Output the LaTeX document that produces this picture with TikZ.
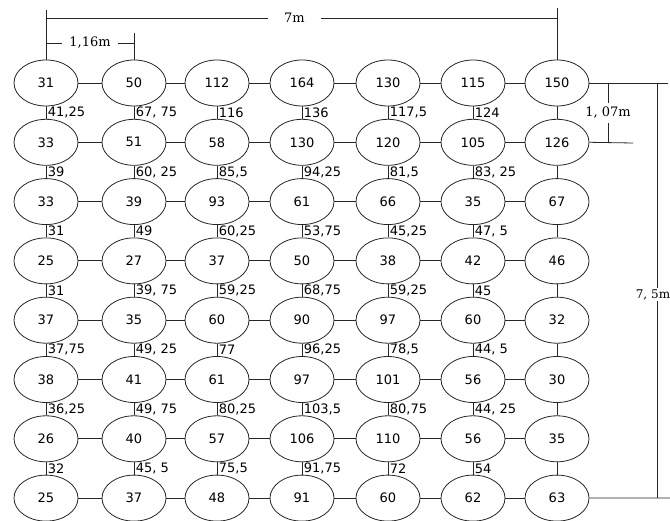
\documentclass[tikz,border=0pt]{standalone}
\usepackage{fontspec}
\setmainfont{DejaVu Sans}
\newfontfamily\dimfont{DejaVu Serif}
\usetikzlibrary{shapes.geometric}

\tikzset{
  cell/.style={shape=ellipse, draw=black!85, line width=0.8pt, minimum width=64pt,
    minimum height=46pt, inner sep=0pt, font=\fontsize{13}{15}\selectfont},
  link/.style={draw=black!85, line width=0.8pt},
  flow/.style={right, inner sep=1.5pt, font=\fontsize{13}{15}\selectfont},
  dimtext/.style={fill=white, inner ysep=1pt, font=\dimfont\fontsize{13}{15}\selectfont}
}

\begin{document}
\begin{tikzpicture}[x=1pt,y=-1pt]
    \useasboundingbox (0,0) rectangle (670,521);
    \def\colx{{46,134,217,302,388,473,557}}
    % wells
    \foreach \vals [count=\r] in {{31,50,112,164,130,115,150},{33,51,58,130,120,105,126},
        {33,39,93,61,66,35,67},{25,27,37,50,38,42,46},{37,35,60,90,97,60,32},
        {38,41,61,97,101,56,30},{26,40,57,106,110,56,35},{25,37,48,91,60,62,63}} {
      \foreach \v [count=\c] in \vals {
        \pgfmathsetmacro\px{\colx[\c-1]}
        \pgfmathsetmacro\py{83+(\r-1)*59.3}
        \node[cell] (r\r c\c) at (\px,\py) {\v};
      }
    }
    % rows
    \foreach \r in {1,...,8} {
      \foreach \c in {1,...,6} {
        \pgfmathtruncatemacro\nxt{\c+1}
        \path[link] (r\r c\c) -- (r\r c\nxt);
      }
    }
    % columns with values
    \foreach \labs [count=\r, evaluate=\r as \s using int(\r+1)] in {
        {{41,25},{67, 75},116,136,{117,5},124},
        {39,{60, 25},{85,5},{94,25},{81,5},{83, 25}},
        {31,49,{60,25},{53,75},{45,25},{47, 5}},
        {31,{39, 75},{59,25},{68,75},{59,25},45},
        {{37,75},{49, 25},77,{96,25},{78,5},{44, 5}},
        {{36,25},{49, 75},{80,25},{103,5},{80,75},{44, 25}},
        {32,{45, 5},{75,5},{91,75},72,54}} {
      \foreach \l [count=\c] in \labs
        \path[link] (r\r c\c) -- node[flow] {\l} (r\s c\c);
      \path[link] (r\r c7) -- (r\s c7);
    }
    % dimensions
    \coordinate (w top) at (46,10);
    \coordinate (e top) at (557,8);
    \coordinate (w line) at (46,18);
    \coordinate (e line) at (557,18);
    \coordinate (s top) at (134,33);
    \coordinate (s line) at (134,43);
    \coordinate (w short) at (46,43);
    \path[link] (r1c1.north) -- (w top);
    \path[link] (r1c7.north) -- (e top);
    \path[link] (w line) -- node[dimtext, pos=0.486, inner xsep=16pt] {7m} (e line);
    \path[link] (r1c2.north) -- (s top);
    \path[link] (w short) -- node[dimtext, inner xsep=7pt] {1,16m} (s line);
    \coordinate (a1) at (668,83);
    \coordinate (a2) at (633,143);
    \coordinate (b1) at (608,83);
    \coordinate (b2) at (608,143);
    \coordinate (c1) at (657,83);
    \coordinate (c2) at (657,498);
    \coordinate (a8) at (670,498);
    \path[link] (r1c7.east) -- (a1);
    \path[link] (r2c7.east) -- (a2);
    \path[link] (r8c7.east) -- (a8);
    \path[link] (b1) -- node[dimtext, inner ysep=4pt] {1, 07m} (b2);
    \path[link] (c1) -- node[dimtext, pos=0.51, inner xsep=0pt, xshift=-4pt,
      font=\dimfont\fontsize{12}{14}\selectfont] {7, 5m} (c2);
\end{tikzpicture}
\end{document}
